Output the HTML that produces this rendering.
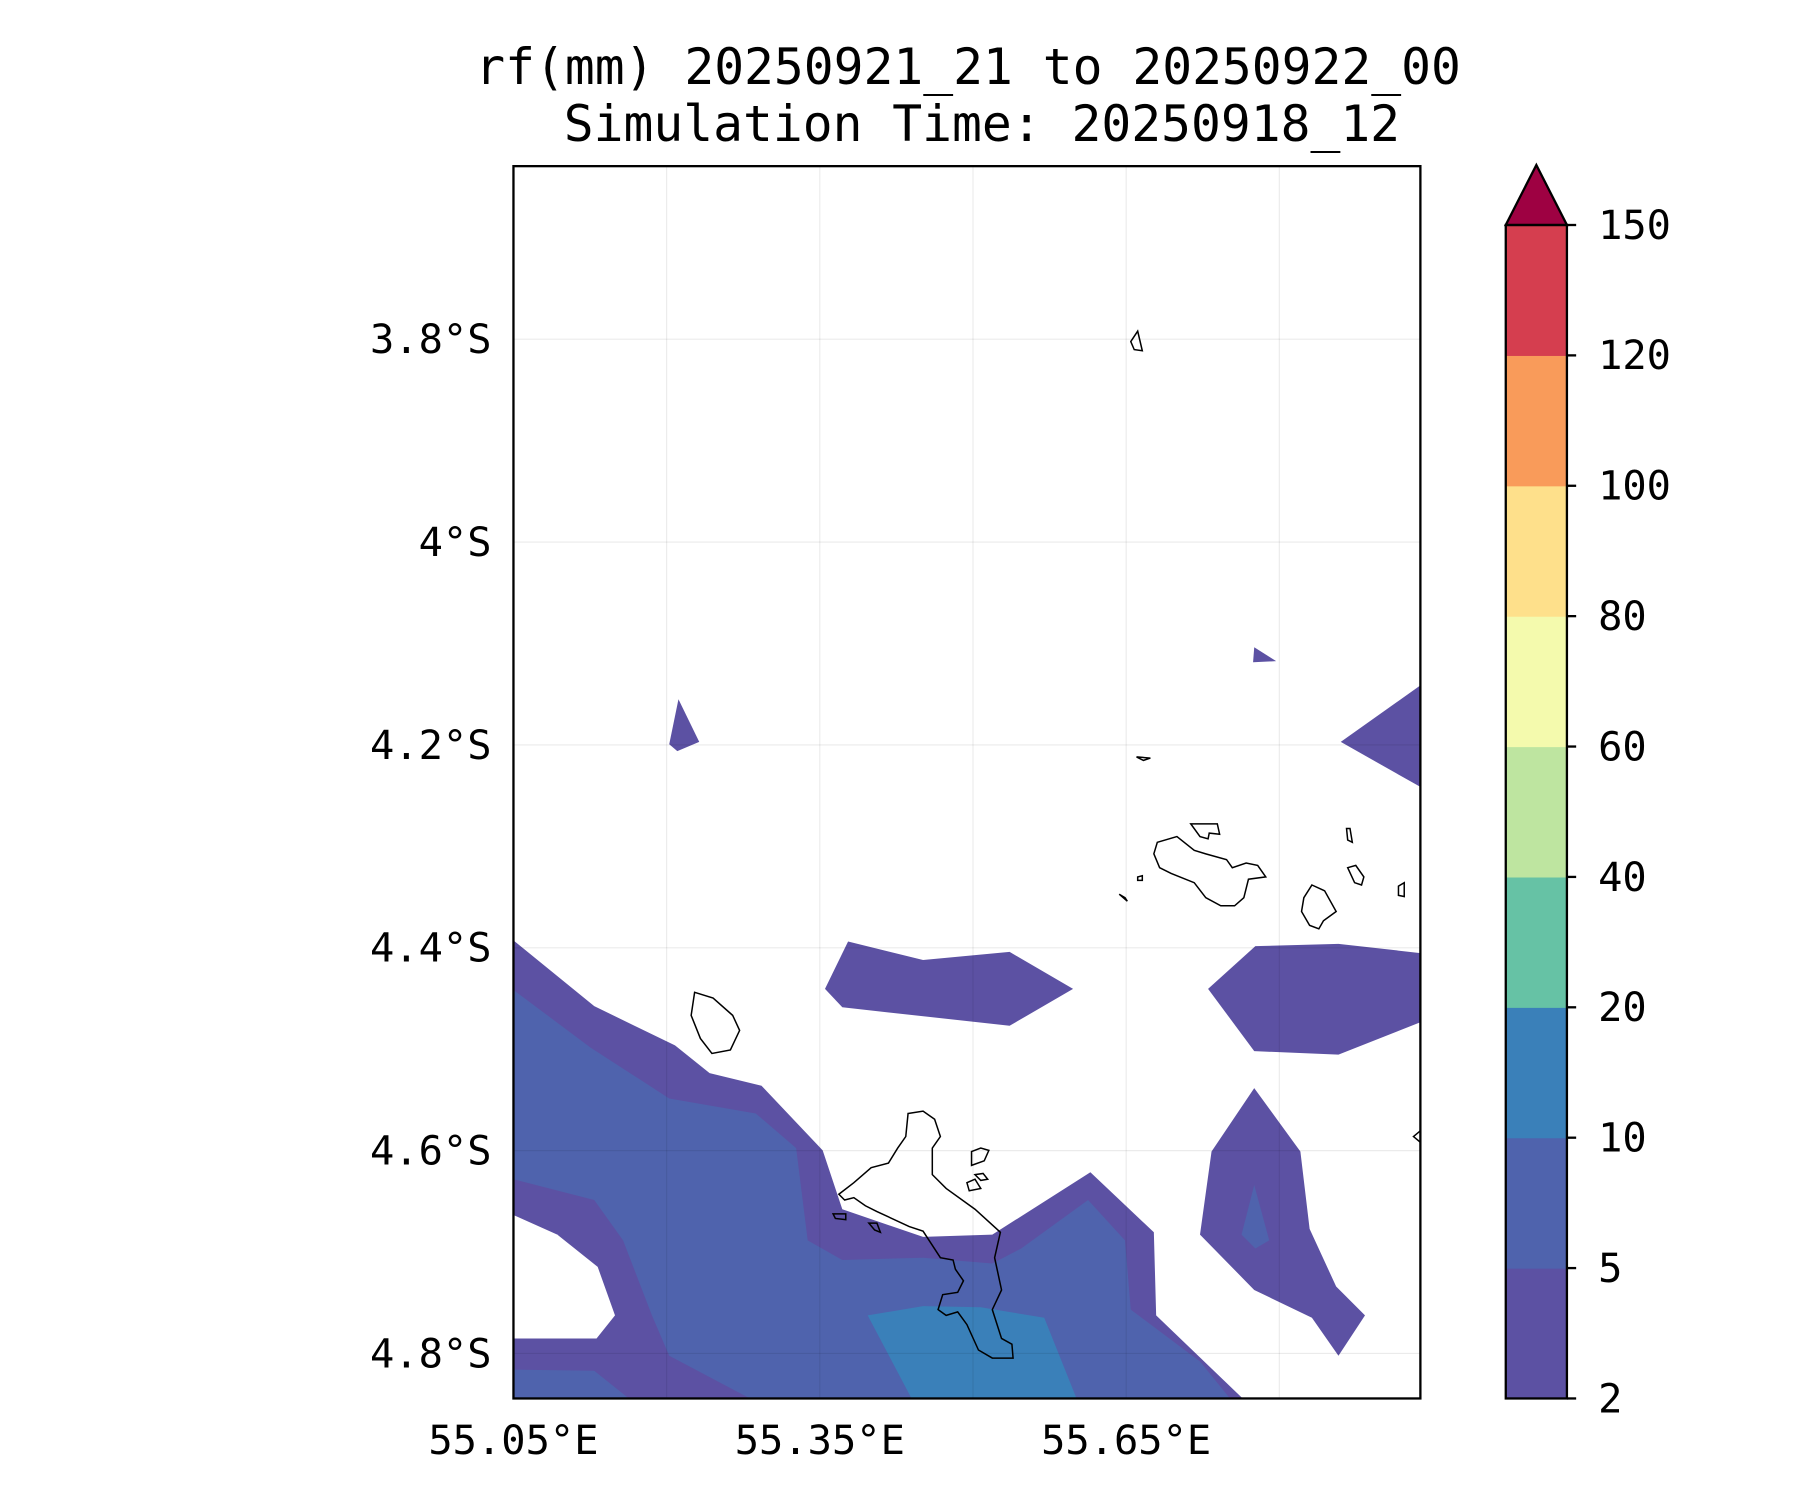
<!DOCTYPE html>
<html><head><meta charset="utf-8"><style>
html,body{margin:0;padding:0;background:#fff;}
svg{display:block;}
text{font-family:"DejaVu Sans Mono","Liberation Mono",monospace;fill:#000;}
</style></head><body>
<svg id="chart" width="1800" height="1500" viewBox="0 0 1560 1300" xmlns="http://www.w3.org/2000/svg">
<rect width="1560" height="1300" fill="#fff"/>
<text x="839" y="73" font-size="43" text-anchor="middle">rf(mm) 20250921_21 to 20250922_00</text>
<text x="851" y="122" font-size="43" text-anchor="middle">Simulation Time: 20250918_12</text>
<defs><clipPath id="mapclip"><rect x="445" y="144" width="786" height="1068"/></clipPath></defs>
<g id="fills" clip-path="url(#mapclip)">
<polygon fill="#5c51a3" points="445,815 515,872 585,906 615,930 660,941 713,997 730,1048 800,1072 860,1070 945,1016 1000,1068 1002,1140 1077,1212 445,1212"/>
<polygon fill="#4f63ad" points="445,858 512,908 580,952 655,965 690,995 700,1075 730,1092 800,1090 860,1095 885,1082 943,1040 975,1075 980,1135 1040,1180 1066,1212 445,1212"/>
<polygon fill="#5c51a3" points="445,1022 515,1040 540,1075 565,1140 580,1175 650,1212 545,1212 515,1188 445,1187"/>
<polygon fill="#fff" points="445,1053 483,1070 518,1098 533,1140 517,1160 445,1160"/>
<polygon fill="#3a80b9" points="752,1140 800,1132 850,1133 905,1142 933,1212 790,1212"/>
<polygon fill="#5c51a3" points="588,606 606,643 587,651 580,645"/>
<polygon fill="#5c51a3" points="1087,561 1106,573 1086,574"/>
<polygon fill="#5c51a3" points="1231,594 1162,643 1231,682"/>
<polygon fill="#5c51a3" points="735,816 800,832 875,825 930,857 875,889 730,873 715,857"/>
<polygon fill="#5c51a3" points="1088,820 1160,818 1231,826 1231,886 1160,914 1087,911 1047,857"/>
<polygon fill="#5c51a3" points="1087,943 1127,998 1135,1065 1158,1115 1183,1140 1160,1175 1137,1142 1087,1118 1040,1070 1050,998"/>
<polygon fill="#4f63ad" points="1087,1027 1100,1075 1088,1082 1076,1070"/>
</g>
<g id="grid"></g>
<g fill="none" stroke="#000" stroke-width="1.3" clip-path="url(#mapclip)">
<polygon points="787,965 800,963 810,970 815,985 808,995 808,1018 820,1030 845,1048 867,1068 862,1090 868,1118 860,1135 868,1160 877,1165 878,1177 860,1177 848,1170 838,1148 830,1137 820,1140 813,1135 817,1122 830,1120 835,1110 828,1100 826,1092 815,1090 800,1067 788,1063 760,1050 750,1045 740,1038 732,1040 727,1035 740,1025 755,1012 770,1008 778,995 785,985"/>
<polygon points="602,860 618,865 635,880 641,893 633,910 617,913 607,900 599,880"/>
<polygon points="1003,730 1020,725 1035,737 1045,740 1063,745 1068,752 1080,748 1090,750 1097,760 1082,762 1078,778 1070,785 1058,785 1045,778 1035,765 1015,757 1005,752 1000,740"/>
<polygon points="1137,767 1148,772 1158,790 1147,798 1143,805 1135,802 1128,790 1130,778"/>
<polygon points="1032,714 1055,714 1057,723 1048,722 1047,727 1040,725"/>
<polygon points="980,296 986,287 990,304 983,303"/>
<polygon points="985,656 997,657 991,659"/>
<polygon points="1167,718 1170,718 1172,730 1168,728"/>
<polygon points="1168,752 1175,750 1182,760 1180,767 1174,765"/>
<polygon points="1212,768 1217,765 1217,777 1212,776"/>
<polygon points="842,998 850,995 857,997 853,1006 842,1010"/>
<polygon points="838,1025 845,1022 850,1030 840,1032"/>
<polygon points="845,1018 852,1017 856,1022 850,1023"/>
<polygon points="722,1052 733,1052 733,1057 724,1056"/>
<polygon points="753,1060 760,1060 763,1068 758,1066"/>
<polygon points="970,775 975,778 977,781"/>
<polygon points="986,760 990,759 990,763 986,763"/>
<polygon points="1225,985 1231,980 1231,990"/>
</g>
<rect x="445" y="144" width="786" height="1068" fill="none" stroke="#000" stroke-width="2"/>
<g id="axes"></g>
<g id="cbar"></g>
<script>
const lonTicks = [55.05, 55.35, 55.65];
const lonGrid = [55.05, 55.2, 55.35, 55.5, 55.65, 55.8];
const latTicks = [3.8, 4.0, 4.2, 4.4, 4.6, 4.8];
const latLabels = ["3.8°S", "4°S", "4.2°S", "4.4°S", "4.6°S", "4.8°S"];
const cbLevels = [2, 5, 10, 20, 40, 60, 80, 100, 120, 150];
const cbColors = ["#5c51a3", "#4f63ad", "#3a80b9", "#66c2a5", "#bee5a0", "#f4faad", "#fee08b", "#f99b5a", "#d53e4f"];
const extendColor = "#9e0142";

const NS = "http://www.w3.org/2000/svg";
function xLon(l){ return 445 + (l - 55.05) * 885; }
function yLat(l){ return 294 + (l - 3.8) * 879; }
function mk(tag, attrs, parent){ const e = document.createElementNS(NS, tag); for (const k in attrs) e.setAttribute(k, attrs[k]); parent.appendChild(e); return e; }

const grid = document.getElementById('grid');
lonGrid.forEach(l => {
  const ln = mk('line', {x1:xLon(l), x2:xLon(l), y1:144, y2:1212, stroke:'#000', 'stroke-opacity':0.08, 'stroke-width':1}, grid);
  
  
});
latTicks.forEach(l => {
  const ln = mk('line', {x1:445, x2:1231, y1:yLat(l), y2:yLat(l), stroke:'#000', 'stroke-opacity':0.08, 'stroke-width':1}, grid);
  
  
});
const axes = document.getElementById('axes');
lonTicks.forEach(l => {
  const t = mk('text', {x:xLon(l), y:1260, 'font-size':35, 'text-anchor':'middle'}, axes);
  t.textContent = l.toFixed(2) + '°E';
  
  
});
latTicks.forEach((l, i) => {
  const t = mk('text', {x:426, y:yLat(l) + 12, 'font-size':35, 'text-anchor':'end'}, axes);
  t.textContent = latLabels[i];
  
  
});

const cb = document.getElementById('cbar');
const cbX = 1305, cbW = 53, cbTop = 195, cbBot = 1212;
const step = (cbBot - cbTop) / (cbLevels.length - 1);
function yLev(i){ return cbBot - i * step; }
cbColors.forEach((c, i) => {
  const r = mk('rect', {x:cbX, y:yLev(i+1), width:cbW, height:step + 0.5, fill:c}, cb);
  
  
});
const tri = mk('polygon', {points:`${cbX},${cbTop} ${cbX+cbW},${cbTop} ${cbX+cbW/2},143`, fill:extendColor, stroke:'#000', 'stroke-width':2}, cb);


const fr = mk('rect', {x:cbX, y:cbTop, width:cbW, height:cbBot - cbTop, fill:'none', stroke:'#000', 'stroke-width':2}, cb);


cbLevels.forEach((v, i) => {
  const tk = mk('line', {x1:cbX+cbW, x2:cbX+cbW+8, y1:yLev(i), y2:yLev(i), stroke:'#000', 'stroke-width':2}, cb);
  
  
  const t = mk('text', {x:1385, y:yLev(i) + 12, 'font-size':35}, cb);
  t.textContent = v;
  
  
});
</script>
</svg>
</body></html>
